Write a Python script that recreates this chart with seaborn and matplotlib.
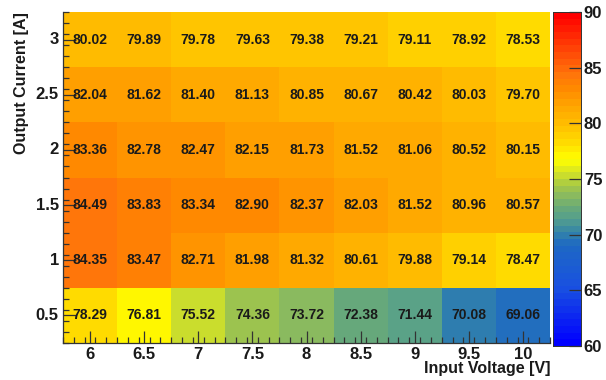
import numpy as np
import pandas as pd
import matplotlib
matplotlib.use("Agg")
import matplotlib.pyplot as plt
import seaborn as sns
from matplotlib.colors import LinearSegmentedColormap
from matplotlib.ticker import FixedLocator

voltages = ["6", "6.5", "7", "7.5", "8", "8.5", "9", "9.5", "10"]
currents = ["3", "2.5", "2", "1.5", "1", "0.5"]
row_3 = [80.02, 79.89, 79.78, 79.63, 79.38, 79.21, 79.11, 78.92, 78.53]
row_2_5 = [82.04, 81.62, 81.40, 81.13, 80.85, 80.67, 80.42, 80.03, 79.70]
row_2 = [83.36, 82.78, 82.47, 82.15, 81.73, 81.52, 81.06, 80.52, 80.15]
row_1_5 = [84.49, 83.83, 83.34, 82.90, 82.37, 82.03, 81.52, 80.96, 80.57]
row_1 = [84.35, 83.47, 82.71, 81.98, 81.32, 80.61, 79.88, 79.14, 78.47]
row_0_5 = [78.29, 76.81, 75.52, 74.36, 73.72, 72.38, 71.44, 70.08, 69.06]

df = pd.DataFrame([row_3, row_2_5, row_2, row_1_5, row_1, row_0_5],
                  index=currents, columns=voltages)

sns.set_theme(style="white")
plt.rcParams['font.family'] = ['Liberation Sans', 'DejaVu Sans']
plt.rcParams['axes.axisbelow'] = False

anchors = [
    (0.0, (0, 0, 255)),
    (5 / 30, (25, 80, 225)),
    (9 / 30, (30, 105, 195)),
    (10 / 30, (50, 130, 170)),
    (11.4 / 30, (85, 160, 140)),
    (12.4 / 30, (105, 170, 120)),
    (13.7 / 30, (145, 190, 90)),
    (14.4 / 30, (165, 200, 70)),
    (15.5 / 30, (210, 225, 40)),
    (16.8 / 30, (255, 255, 0)),
    (18.3 / 30, (255, 220, 0)),
    (20 / 30, (255, 190, 0)),
    (22 / 30, (255, 160, 0)),
    (23.4 / 30, (255, 135, 0)),
    (24.5 / 30, (255, 118, 10)),
    (1.0, (255, 0, 0)),
]
cmap = LinearSegmentedColormap.from_list(
    "rootpal", [(p, tuple(c / 255 for c in rgb)) for p, rgb in anchors], N=50)

fig = plt.figure(figsize=(6.06, 3.80), dpi=100)
W, H = 606, 380
ax = fig.add_axes([63 / W, 1 - 343 / H, (550 - 63) / W, (343 - 12) / H])
cax = fig.add_axes([553 / W, 1 - 346 / H, (581 - 553) / W, (346 - 12) / H])

sns.heatmap(df, ax=ax, cbar_ax=cax, cmap=cmap, vmin=60, vmax=90,
            annot=True, fmt=".2f",
            annot_kws={"fontsize": 10, "fontweight": "bold", "color": "#1a1a1a"},
            cbar_kws={"ticks": [60, 65, 70, 75, 80, 85, 90]})
ax.set_axisbelow(False)
cax.set_axisbelow(False)

ax.set_xticklabels(voltages, rotation=0, fontsize=12, fontweight="bold", color="#1a1a1a")
ax.set_yticklabels(currents, rotation=0, fontsize=12, fontweight="bold", color="#1a1a1a")
ax.tick_params(axis="both", which="major", direction="in", length=9, width=0.9,
               color="#333333", pad=3)
ax.tick_params(axis="x", bottom=True, top=False)
ax.tick_params(axis="y", left=True, right=False)
ax.xaxis.set_minor_locator(FixedLocator(np.arange(0, 9.01, 0.2)))
ax.yaxis.set_minor_locator(FixedLocator(np.arange(0, 6.01, 0.2)))
ax.tick_params(which="minor", direction="in", length=4.5, width=0.9, color="#333333",
               bottom=True, left=True, top=False, right=False)
for side in ["left", "bottom"]:
    ax.spines[side].set_visible(True)
    ax.spines[side].set_color("#333333")
    ax.spines[side].set_linewidth(0.9)
for side in ["top", "right"]:
    ax.spines[side].set_visible(False)

ax.set_xlabel("Input Voltage [V]", fontsize=11.5, fontweight="bold", color="#1a1a1a",
              ha="right", va="center")
ax.xaxis.set_label_coords(1.0, -(369 - 343) / 331)
ax.set_ylabel("Output Current [A]", fontsize=11.5, fontweight="bold", color="#1a1a1a",
              ha="right", va="center")
ax.yaxis.set_label_coords(-(63 - 22) / 487, 1.0)

cax.tick_params(axis="y", direction="in", length=9, width=0.9, color="#333333",
                labelsize=12, pad=2, right=True, left=False)
for lab in cax.get_yticklabels():
    lab.set_fontweight("bold")
    lab.set_color("#1a1a1a")
cax.yaxis.set_ticks_position("right")
for s in cax.spines.values():
    s.set_visible(True)
    s.set_linewidth(0.6)
    s.set_color("#333333")

fig.savefig("out.png", dpi=100)
